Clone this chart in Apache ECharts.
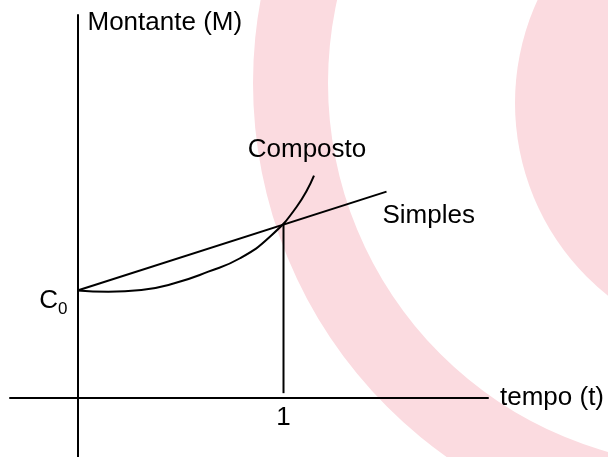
<!DOCTYPE html>
<html>
<head>
	<meta charset="utf-8">
	<title>Montante simples x composto</title>
	<script src="https://cdn.jsdelivr.net/npm/echarts@6/dist/echarts.min.js"></script>
	<style>
		html, body { margin: 0; padding: 0; background: #fff; }
		#grafico { width: 608px; height: 457px; }
	</style>
</head>
<body>
	<div id="grafico"></div>
	<script>
	// tempo (t) e montante (M), com C0 = 1
	var compostoT = [0, 0.15, 0.31, 0.47, 0.635, 0.789, 0.934, 1.064, 1.148];
	var compostoM = [1.0, 0.989, 1.005, 1.067, 1.175, 1.30, 1.50, 1.779, 2.068];
	var simplesT = [0, 1.5];
	var simplesM = [1.0, 1.92];
	var marcoT = [1, 1];
	var marcoM = [0.045, 1.616];

	var fonte = 'Liberation Sans, Arial, sans-serif';
	var rosa = '#fbdbe0';
	var texto = { color: '#000', fontSize: 26, fontFamily: fonte };

	function pares(xs, ys) {
		return xs.map(function (x, i) { return [x, ys[i]]; });
	}
	function comRotulo(ponto, label) {
		return { value: ponto, label: Object.assign({ show: true }, texto, label) };
	}

	var dadosComposto = pares(compostoT, compostoM);
	var n = dadosComposto.length - 1;
	dadosComposto[n] = comRotulo(dadosComposto[n], {
		position: 'top', distance: 0, offset: [-7, -12], formatter: 'Composto'
	});

	var dadosSimples = pares(simplesT, simplesM);
	// C0 no início da reta, "Simples" no fim
	dadosSimples[0] = comRotulo(dadosSimples[0], {
		position: 'left', distance: 9, padding: [25, 0, 0, 0],
		formatter: '{c|C}{s|0}',
		rich: {
			c: { fontSize: 26, fontFamily: fonte, color: '#000', padding: [0, 0, 4, 0] },
			s: { fontSize: 17, fontFamily: fonte, color: '#000', verticalAlign: 'bottom' }
		}
	});
	dadosSimples[1] = comRotulo(dadosSimples[1], {
		position: 'right', distance: 0, offset: [-5, 24], formatter: 'Simples'
	});

	var dadosMarco = pares(marcoT, marcoM);
	dadosMarco[0] = comRotulo(dadosMarco[0], {
		position: 'bottom', distance: 11, formatter: '1'
	});

	var linha = { color: '#000', width: 2 };
	// símbolo invisível só para ancorar os rótulos
	var simboloOculto = {
		symbol: 'circle', symbolSize: 2, showSymbol: true, showAllSymbol: true,
		itemStyle: { color: 'rgba(0,0,0,0)', borderWidth: 0 },
		emphasis: { disabled: true }
	};

	var myChart = echarts.init(document.getElementById('grafico'));
	var option = {
		animation: false,
		backgroundColor: '#fff',
		// marca d'água rosa ao fundo
		graphic: [
			{ type: 'ring', z: -10, silent: true, shape: { cx: 711, cy: 83, r: 458, r0: 383 }, style: { fill: rosa } },
			{ type: 'circle', z: -10, silent: true, shape: { cx: 761, cy: 103, r: 246 }, style: { fill: rosa } }
		],
		grid: { left: 10, right: 120, top: 15, bottom: 0, containLabel: false, outerBoundsMode: 'none' },
		xAxis: {
			type: 'value',
			min: -0.3277,
			max: 1.9927,
			name: 'tempo (t)',
			nameLocation: 'end',
			nameGap: 12,
			nameTextStyle: Object.assign({ verticalAlign: 'middle' }, texto),
			axisLine: { onZero: true, lineStyle: linha },
			axisTick: { show: false },
			splitLine: { show: false },
			axisLabel: { show: false }
		},
		yAxis: {
			type: 'value',
			min: -0.5488,
			max: 3.5628,
			name: 'Montante (M)',
			nameLocation: 'end',
			nameGap: 5,
			nameTextStyle: Object.assign({ align: 'left', verticalAlign: 'top', padding: [0, 0, 0, 10] }, texto),
			axisLine: { onZero: true, lineStyle: linha },
			axisTick: { show: false },
			splitLine: { show: false },
			axisLabel: { show: false }
		},
		series: [
			Object.assign({
				name: 'Composto', type: 'line', smooth: true,
				lineStyle: linha, data: dadosComposto
			}, simboloOculto),
			Object.assign({
				name: 'Simples', type: 'line',
				lineStyle: linha, data: dadosSimples
			}, simboloOculto),
			Object.assign({
				name: 't = 1', type: 'line',
				lineStyle: linha, data: dadosMarco
			}, simboloOculto)
		]
	};
	myChart.setOption(option);
	</script>
</body>
</html>
